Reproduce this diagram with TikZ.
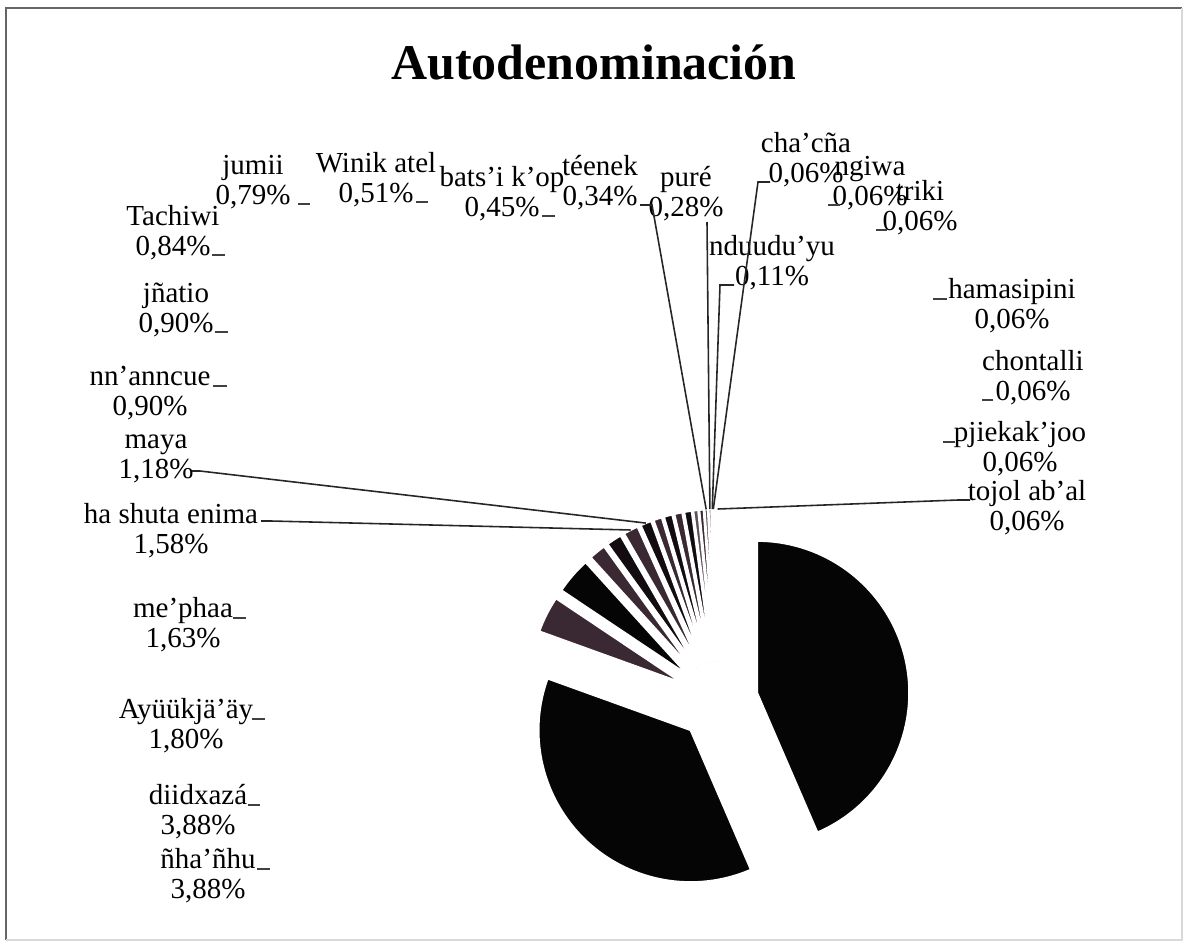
\documentclass[tikz,border=0pt]{standalone}
\usepackage{fontspec}
\setmainfont{Liberation Serif}
\definecolor{wedgeblack}{HTML}{050505}
\definecolor{wedgeplum}{HTML}{3A2832}
\definecolor{wedgedark}{HTML}{120C10}
\definecolor{wedgegray}{HTML}{5E5058}
\definecolor{wedgelight}{HTML}{857A80}
\tikzset{
    chart/.style={x=0.01cm, y=0.01cm},
    % etichette dei dati (nome e percentuale)
    datalabel/.style={align=center, inner sep=0pt,
                      font=\fontsize{8.25}{8.5}\selectfont},
    % linee guida verso le fette
    leader/.style={draw=black!85, line width=0.45pt},
    labeltick/.style={draw=black!75, line width=0.45pt},
    % fette esplose con bordo bianco
    wedge/.style={draw=white, line width=0.55pt},
    frame/.style={draw=black!60, line width=0.7pt}
}

\begin{document}
\begin{tikzpicture}[chart]
    \useasboundingbox (0,0) rectangle (1184,944);
    \draw[frame] (6,4) -- (6,936) -- (1182,936);
    \draw[frame, draw=black!15] (6,4) -- (1182,4) -- (1182,936);

    \node[font=\bfseries\fontsize{14.2}{17}\selectfont] (title) at (594,882) {Autodenominación};

    % torta: centro, raggio 152, esplosione 40
    \coordinate (pc) at (718,243);
    \foreach \a/\b/\c/\n in {
        90/90.216/wedgelight/tojol, 90.216/90.432/wedgegray/pjiekak,
        90.432/90.648/wedgelight/chontalli, 90.648/90.864/wedgegray/hamasi,
        90.864/91.08/wedgelight/triki, 91.08/91.296/wedgegray/ngiwa,
        91.296/91.512/wedgelight/chacna, 91.512/91.908/wedgegray/nduudu,
        91.908/92.916/wedgelight/pure, 92.916/94.14/wedgegray/teenek,
        94.14/95.76/wedgeplum/batsi, 95.76/97.596/wedgegray/winik,
        97.596/100.44/wedgedark/jumii, 100.44/103.464/wedgeplum/tachiwi,
        103.464/106.704/wedgedark/jnatio, 106.704/109.944/wedgeplum/nnanncue,
        109.944/114.192/wedgedark/maya, 114.192/119.88/wedgeplum/hashuta,
        119.88/125.748/wedgedark/mephaa, 125.748/132.228/wedgeplum/ayuuk,
        132.228/146.196/wedgeblack/diidxaza, 146.196/160.164/wedgeplum/nhanhu,
        160.164/293.364/wedgeblack/bigleft, 293.364/450/wedgeblack/bigright} {
        \pgfmathsetmacro\m{(\a+\b)/2}
        \filldraw[wedge, fill=\c] ([shift={(\m:40)}]pc) -- ++(\a:152)
            arc[start angle=\a, end angle=\b, radius=152] -- cycle;
        \coordinate (s-\n) at ([shift={(\m:192)}]pc);
    }

    % etichette a sinistra
    \node[datalabel] (tachiwi) at (173,711) {Tachiwi\\0,84\%};
    \node[datalabel] (jnatio) at (176,634) {jñatio\\0,90\%};
    \node[datalabel] (nnanncue) at (150,551) {nn'anncue\\0,90\%};
    \node[datalabel] (maya) at (156,485) {maya\\1,18\%};
    \node[datalabel] (hashuta) at (171,413) {ha shuta enima\\1,58\%};
    \node[datalabel] (mephaa) at (183,319) {me'phaa\\1,63\%};
    \node[datalabel] (ayuuk) at (186,218) {Ayüükjä'äy\\1,80\%};
    \node[datalabel] (diidxaza) at (198,132) {diidxazá\\3,88\%};
    \node[datalabel] (nhanhu) at (208,68) {ñha'ñhu\\3,88\%};
    % etichette in alto
    \node[datalabel] (jumii) at (253,762) {jumii\\0,79\%};
    \node[datalabel] (winik) at (376,764) {Winik atel\\0,51\%};
    \node[datalabel] (batsi) at (502,750) {bats'i k'op\\0,45\%};
    \node[datalabel] (teenek) at (600,761) {téenek\\0,34\%};
    \node[datalabel] (pure) at (686,750) {puré\\0,28\%};
    \node[datalabel] (chacna) at (806,784) {cha'cña\\0,06\%};
    \node[datalabel] (ngiwa) at (870,761) {ngiwa\\0,06\%};
    \node[datalabel] (triki) at (920,736) {triki\\0,06\%};
    \node[datalabel] (nduudu) at (772,681) {nduudu'yu\\0,11\%};
    % etichette a destra
    \node[datalabel] (hamasi) at (1012,638) {hamasipini\\0,06\%};
    \node[datalabel] (chontalli) at (1033,566) {chontalli\\0,06\%};
    \node[datalabel] (pjiekak) at (1020,495) {pjiekak'joo\\0,06\%};
    \node[datalabel] (tojol) at (1027,436) {tojol ab'al\\0,06\%};

    % trattini delle etichette
    \draw[labeltick] ([shift={(39,-22)}]tachiwi.center) -- ++(13,0);
    \draw[labeltick] ([shift={(39,-22)}]jnatio.center) -- ++(13,0);
    \draw[labeltick] ([shift={(63,7)}]nnanncue.center) -- ++(14,0);
    \draw[labeltick] ([shift={(50,7)}]mephaa.center) -- ++(13,0);
    \draw[labeltick] ([shift={(66,7)}]ayuuk.center) -- ++(13,0);
    \draw[labeltick] ([shift={(50,7)}]diidxaza.center) -- ++(12,0);
    \draw[labeltick] ([shift={(49,7)}]nhanhu.center) -- ++(13,0);
    \draw[labeltick] ([shift={(45,-22)}]jumii.center) -- ++(12,0);
    \draw[labeltick] ([shift={(40,-22)}]winik.center) -- ++(12,0);
    \draw[labeltick] ([shift={(40,-22)}]batsi.center) -- ++(13,0);
    \draw[labeltick] ([shift={(-30,-22)}]ngiwa.center) -- ++(-12,0);
    \draw[labeltick] ([shift={(-33,-22)}]triki.center) -- ++(-11,0);
    \draw[labeltick] ([shift={(-65,7)}]hamasi.center) -- ++(-14,0);
    \draw[labeltick] ([shift={(-40,-22)}]chontalli.center) -- ++(-11,0);
    \draw[labeltick] ([shift={(-65,7)}]pjiekak.center) -- ++(-12,0);

    % linee guida
    \draw[leader] ([shift={(36,-12)}]maya.center) -- ++(8,0) -- (s-maya);
    \draw[leader] ([shift={(90,10)}]hashuta.center) -- ++(10,0) -- (s-hashuta);
    \draw[leader] ([shift={(40,-22)}]teenek.center) -- ++(12,0) -- (s-teenek);
    \draw[leader] ([shift={(21,-28)}]pure.center) -- (s-pure);
    \draw[leader] ([shift={(-38,-22)}]nduudu.center) -- ++(-14,0) -- (s-nduudu);
    \draw[leader] ([shift={(-36,-22)}]chacna.center) -- ++(-12,0) -- (s-chacna);
    \draw[leader] ([shift={(-57,8)}]tojol.center) -- ++(-12,0) -- (s-tojol);
\end{tikzpicture}
\end{document}
